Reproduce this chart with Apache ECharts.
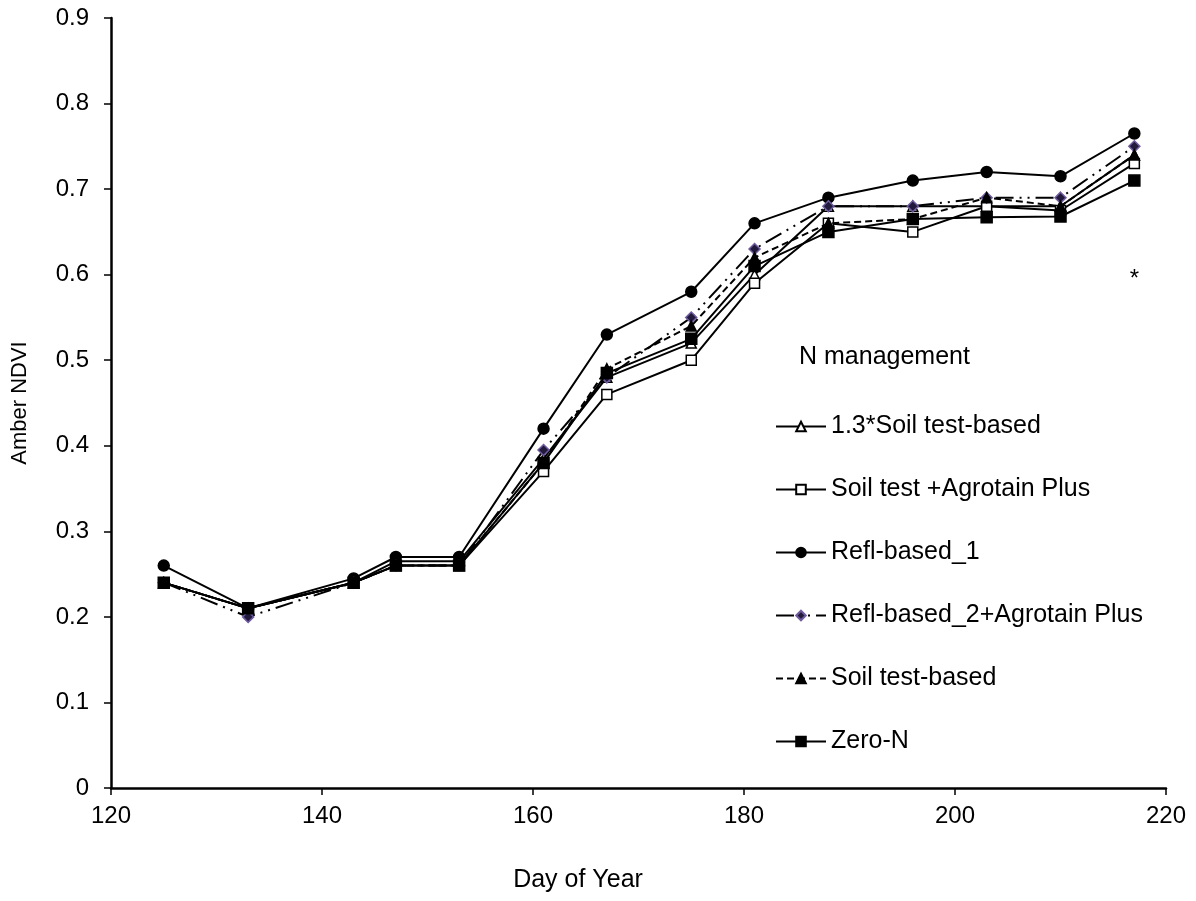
<!DOCTYPE html>
<html><head><meta charset="utf-8">
<script src="https://cdn.jsdelivr.net/npm/echarts@6/dist/echarts.min.js"></script>
<style>html,body{margin:0;padding:0;background:#fff}#c{width:1196px;height:901px}</style>
</head><body><div id="c"></div>
<script>
var days = [125,133,143,147,153,161,167,175,181,188,196,203,210,217];
var seriesNames = ['1.3*Soil test-based','Soil test +Agrotain Plus','Refl-based_1','Refl-based_2+Agrotain Plus','Soil test-based','Zero-N'];
var soil13    = [0.24,0.21,0.24,0.265,0.265,0.385,0.48,0.52,0.60,0.68,0.68,0.68,0.68,0.74];
var soilAgro  = [0.24,0.21,0.24,0.26,0.26,0.37,0.46,0.50,0.59,0.66,0.65,0.68,0.675,0.73];
var refl1     = [0.26,0.21,0.245,0.27,0.27,0.42,0.53,0.58,0.66,0.69,0.71,0.72,0.715,0.765];
var refl2     = [0.24,0.20,0.24,0.26,0.26,0.395,0.48,0.55,0.63,0.68,0.68,0.69,0.69,0.75];
var soilBased = [0.24,0.21,0.24,0.26,0.26,0.38,0.49,0.54,0.62,0.66,0.665,0.69,0.68,0.74];
var zeroN     = [0.24,0.21,0.24,0.26,0.26,0.38,0.485,0.525,0.61,0.65,0.665,0.667,0.668,0.71];
var starPoint = [217, 0.6];
var xTicks = {min:120, max:220, interval:20};
var yTicks = {min:0, max:0.9, interval:0.1};

function pairs(v){ return days.map(function(d,i){ return [d, v[i]]; }); }
var FONT = 'Liberation Sans, Arial, sans-serif';
var styles = [
  {data: soil13, symbol:'triangle', size:10, fill:'#fff', border:'#000', dash:'solid'},
  {data: soilAgro, symbol:'rect', size:10, fill:'#fff', border:'#000', dash:'solid'},
  {data: refl1, symbol:'circle', size:11, fill:'#000', border:'#000', dash:'solid'},
  {data: refl2, symbol:'diamond', size:11, fill:'#221a3c', border:'#6f5a9e', dash:[18,6,2,6,2,6]},
  {data: soilBased, symbol:'triangle', size:10, fill:'#000', border:'#000', dash:[7,4]},
  {data: zeroN, symbol:'rect', size:11, fill:'#000', border:'#000', dash:'solid'}
];
var series = styles.map(function(s,i){
  return {
    name: seriesNames[i], type:'line', data: pairs(s.data),
    symbol: s.symbol, symbolSize: s.size, showAllSymbol:true,
    lineStyle:{color:'#000', width:2, type:s.dash},
    itemStyle:{color:s.fill, borderColor:s.border, borderWidth:1.5},
    emphasis:{disabled:true}, z: 2+i
  };
});
series.push({
  name:'note', type:'scatter', data:[starPoint], symbol:'circle', symbolSize:4, silent:true,
  itemStyle:{color:'rgba(255,255,255,0)'},
  label:{show:true, position:'inside', formatter:'*', fontSize:24, color:'#000', opacity:1, fontFamily:FONT, offset:[0,5]},
  z: 20
});

var chart = echarts.init(document.getElementById('c'));
chart.setOption({
  animation:false,
  backgroundColor:'#fff',
  grid:{left:111, right:30, top:18, bottom:113, containLabel:false},
  xAxis:{type:'value', min:xTicks.min, max:xTicks.max, interval:xTicks.interval,
    axisLine:{lineStyle:{color:'#000', width:2.5}},
    axisTick:{show:true, inside:false, length:7, lineStyle:{color:'#000', width:1.5}},
    axisLabel:{fontSize:24, color:'#000', fontFamily:FONT, margin:16},
    splitLine:{show:false}},
  yAxis:{type:'value', min:yTicks.min, max:yTicks.max, interval:yTicks.interval,
    name:'Amber NDVI', nameLocation:'middle', nameGap:80,
    nameTextStyle:{fontSize:22, color:'#000', fontFamily:FONT},
    axisLine:{show:true, lineStyle:{color:'#000', width:2.5}},
    axisTick:{show:true, inside:false, length:7, lineStyle:{color:'#000', width:1.5}},
    axisLabel:{fontSize:24, color:'#000', fontFamily:FONT, margin:22,
      formatter:function(v){ return v===0 ? '0' : v.toFixed(1); }},
    splitLine:{show:false}},
  legend:{orient:'vertical', left:770, top:409, itemWidth:50, itemHeight:12, itemGap:38,
    data: seriesNames,
    textStyle:{fontSize:25, color:'#000', fontFamily:FONT, lineHeight:25},
    selectedMode:false},
  graphic:[
    {type:'text', left:799, top:345, style:{text:'N management', fontSize:25, fill:'#000', fontFamily:FONT}},
    {type:'text', x:578, y:880, style:{text:'Day of Year', fontSize:25, fill:'#000', fontFamily:FONT, textAlign:'center', textVerticalAlign:'middle'}}
  ],
  series: series
});
</script></body></html>
